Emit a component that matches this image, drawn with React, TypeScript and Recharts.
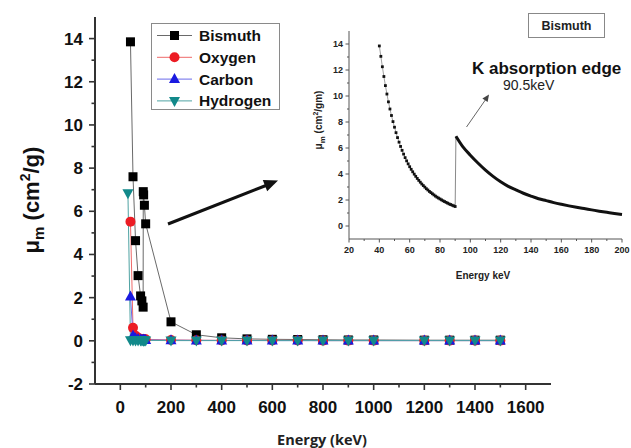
import React from "react";
import { LineChart, Line, XAxis, YAxis } from "recharts";

// ---- main chart data (mass attenuation, cm^2/g) ----
const energies = [30, 40, 50, 60, 70, 80, 85, 90, 90.5, 92, 95, 100, 200, 300, 400, 500, 600, 700, 800, 900, 1000, 1200, 1300, 1400, 1500];
const bismuth = [null, 13.85, 7.6, 4.64, 3.02, 2.08, 1.85, 1.56, 6.91, 6.76, 6.28, 5.42, 0.88, 0.28, 0.14, 0.09, 0.07, 0.06, 0.05, 0.04, 0.04, 0.03, 0.03, 0.03, 0.03];
const oxygen = [null, 5.52, 0.6, 0.24, 0.14, 0.1, 0.09, 0.08, 0.08, 0.08, 0.07, 0.07, 0.04, 0.03, 0.02, 0.02, 0.02, 0.02, 0.01, 0.01, 0.01, 0.01, 0.01, 0.01, 0.01];
const carbon = [null, 2.05, 0.25, 0.12, 0.08, 0.06, 0.05, 0.05, 0.05, 0.05, 0.04, 0.04, 0.03, 0.02, 0.02, 0.02, 0.01, 0.01, 0.01, 0.01, 0.01, 0.01, 0.01, 0.01, 0.01];
const hydrogen = [6.84, 0.03, 0.02, 0.02, 0.02, 0.02, 0.02, 0.02, 0.02, 0.02, 0.02, 0.02, 0.01, 0.01, 0.01, 0.01, 0.01, 0.01, 0.01, 0.01, 0.01, 0.01, 0.01, 0.01, 0.01];

const mainXTicks = [0, 100, 200, 300, 400, 500, 600, 700, 800, 900, 1000, 1100, 1200, 1300, 1400, 1500, 1600];
const mainYTicks = [-2, -1, 0, 1, 2, 3, 4, 5, 6, 7, 8, 9, 10, 11, 12, 13, 14];

// ---- inset data (Bismuth around the K edge) ----
const preEdgeEnergies = [40, 41, 42, 43, 44, 45, 46, 47, 48, 49, 50, 51, 52, 53, 54, 55, 56, 57, 58, 59, 60, 61, 62, 63, 64, 65, 66, 67, 68, 69, 70, 71, 72, 73, 74, 75, 76, 77, 78, 79, 80, 81, 82, 83, 84, 85, 86, 87, 88, 89, 90];
const preEdgeValues = [13.85, 13.05, 12.25, 11.5, 10.8, 10.15, 9.55, 9.0, 8.5, 8.03, 7.6, 7.18, 6.8, 6.45, 6.12, 5.82, 5.53, 5.26, 5.01, 4.78, 4.56, 4.36, 4.17, 3.99, 3.82, 3.66, 3.51, 3.37, 3.23, 3.11, 2.99, 2.87, 2.77, 2.66, 2.57, 2.48, 2.39, 2.3, 2.22, 2.15, 2.08, 2.01, 1.94, 1.88, 1.82, 1.76, 1.7, 1.65, 1.6, 1.55, 1.5];
const postEdgeEnergies = [90.5, 95, 100, 105, 110, 115, 120, 125, 130, 135, 140, 145, 150, 155, 160, 165, 170, 175, 180, 185, 190, 195, 200];
const postEdgeValues = [6.9, 6.1, 5.45, 4.85, 4.3, 3.82, 3.4, 3.05, 2.78, 2.52, 2.3, 2.1, 1.95, 1.8, 1.67, 1.55, 1.44, 1.34, 1.24, 1.14, 1.05, 0.96, 0.88];

const insetXTicks = [20, 30, 40, 50, 60, 70, 80, 90, 100, 110, 120, 130, 140, 150, 160, 170, 180, 190, 200];
const insetYTicks = [0, 1, 2, 3, 4, 5, 6, 7, 8, 9, 10, 11, 12, 13, 14];

const series = [
  { key: "bismuth", name: "Bismuth", color: "#000000", line: "#6a6a6a", shape: "square" },
  { key: "oxygen", name: "Oxygen", color: "#ec1c24", line: "#ee6a6a", shape: "circle" },
  { key: "carbon", name: "Carbon", color: "#1a1ae0", line: "#6b6bea", shape: "up" },
  { key: "hydrogen", name: "Hydrogen", color: "#12898a", line: "#4fa3a3", shape: "down" },
];

const mainData = energies.map((energy, i) => ({
  energy,
  bismuth: bismuth[i],
  oxygen: oxygen[i],
  carbon: carbon[i],
  hydrogen: hydrogen[i],
}));

const insetData = [
  ...preEdgeEnergies.map((energy, i) => ({
    energy,
    pre: preEdgeValues[i],
    post: null as number | null,
    jump: i === preEdgeEnergies.length - 1 ? preEdgeValues[i] : null,
  })),
  ...postEdgeEnergies.map((energy, i) => ({
    energy,
    pre: null as number | null,
    post: postEdgeValues[i],
    jump: i === 0 ? postEdgeValues[i] : null,
  })),
];

const AXIS = "#333";
const ARIAL = "'Liberation Sans', Arial, sans-serif";

function Marker({ shape, cx, cy, color }: { shape: string; cx: number; cy: number; color: string }) {
  if (shape === "square") return <rect x={cx - 4.5} y={cy - 4.5} width={9} height={9} fill={color} />;
  if (shape === "circle") return <circle cx={cx} cy={cy} r={5} fill={color} />;
  if (shape === "up")
    return <polygon points={`${cx},${cy - 6} ${cx - 5.5},${cy + 4} ${cx + 5.5},${cy + 4}`} fill={color} />;
  return <polygon points={`${cx - 5.5},${cy - 4} ${cx + 5.5},${cy - 4} ${cx},${cy + 6}`} fill={color} />;
}

function arrowHead(x1: number, y1: number, x2: number, y2: number, len: number, half: number) {
  const d = Math.hypot(x2 - x1, y2 - y1);
  const ux = (x2 - x1) / d;
  const uy = (y2 - y1) / d;
  const bx = x2 - ux * len;
  const by = y2 - uy * len;
  return `${x2},${y2} ${bx - uy * half},${by + ux * half} ${bx + uy * half},${by - ux * half}`;
}

const MainXTick = ({ x, y, payload }: any) => {
  const major = payload.value % 200 === 0;
  return (
    <g>
      <line x1={x} y1={y} x2={x} y2={y + (major ? 6 : 3.5)} stroke={AXIS} strokeWidth={1.6} />
      {major && (
        <text x={x} y={y + 29} textAnchor="middle" fontFamily={ARIAL} fontWeight="bold" fontSize={17} fill="#111">
          {payload.value}
        </text>
      )}
    </g>
  );
};

const MainYTick = ({ x, y, payload }: any) => {
  const major = payload.value % 2 === 0;
  return (
    <g>
      <line x1={x} y1={y} x2={x - (major ? 6 : 3.5)} y2={y} stroke={AXIS} strokeWidth={1.6} />
      {major && (
        <text x={x - 12} y={y + 6} textAnchor="end" fontFamily={ARIAL} fontWeight="bold" fontSize={17} fill="#111">
          {payload.value}
        </text>
      )}
    </g>
  );
};

const InsetXTick = ({ x, y, payload }: any) => {
  const major = payload.value % 20 === 0;
  return (
    <g>
      <line x1={x} y1={y} x2={x} y2={y + (major ? 3.5 : 2)} stroke="#555" strokeWidth={1} />
      {major && (
        <text x={x} y={y + 14} textAnchor="middle" fontFamily={ARIAL} fontWeight="bold" fontSize={9} fill="#222">
          {payload.value}
        </text>
      )}
    </g>
  );
};

const InsetYTick = ({ x, y, payload }: any) => {
  const major = payload.value % 2 === 0;
  return (
    <g>
      <line x1={x} y1={y} x2={x - (major ? 3.5 : 2)} y2={y} stroke="#555" strokeWidth={1} />
      {major && (
        <text x={x - 6} y={y + 3.2} textAnchor="end" fontFamily={ARIAL} fontWeight="bold" fontSize={9} fill="#222">
          {payload.value}
        </text>
      )}
    </g>
  );
};

function Overlay() {
  return (
    <svg width={631} height={448} style={{ position: "absolute", left: 0, top: 0, pointerEvents: "none" }}>
      {/* main axis titles */}
      <text transform="translate(39,200) rotate(-90)" textAnchor="middle" fontFamily={ARIAL} fontWeight="bold" fontSize={22} fill="#111">
        μ<tspan fontSize={15} dy={5}>m</tspan>
        <tspan dy={-5}> (cm</tspan>
        <tspan fontSize={14} dy={-9}>2</tspan>
        <tspan dy={9}>/g)</tspan>
      </text>
      <text x={322} y={445} textAnchor="middle" fontFamily="'Open Sans', sans-serif" fontWeight="bold" fontSize={14.5} fill="#222">
        Energy (keV)
      </text>

      {/* legend */}
      <rect x={151.5} y={23.5} width={128} height={86} fill="#fff" stroke="#8a8a8a" strokeWidth={1} />
      {series.map((s, i) => {
        const cy = 35.5 + i * 21.8;
        return (
          <g key={s.key}>
            <line x1={157} y1={cy} x2={192} y2={cy} stroke={s.line} strokeWidth={1} />
            <Marker shape={s.shape} cx={174.5} cy={cy} color={s.color} />
            <text x={199} y={cy + 5.5} fontFamily={ARIAL} fontWeight="bold" fontSize={15.5} fill="#111">
              {s.name}
            </text>
          </g>
        );
      })}

      {/* pointer from main plot to inset */}
      <line x1={168} y1={224} x2={266} y2={185.5} stroke="#111" strokeWidth={3} />
      <polygon points={arrowHead(168, 224, 278, 180.5, 14, 6)} fill="#111" />

      {/* inset annotations */}
      <rect x={528.5} y={13.5} width={76} height={24} fill="#fff" stroke="#888" strokeWidth={1} />
      <text x={566.5} y={30} textAnchor="middle" fontFamily={ARIAL} fontWeight="bold" fontSize={12.5} fill="#222">
        Bismuth
      </text>
      <text x={472} y={74} fontFamily={ARIAL} fontWeight="bold" fontSize={17} fill="#111">
        K absorption edge
      </text>
      <text x={503} y={90} fontFamily={ARIAL} fontSize={14} fill="#222">
        90.5keV
      </text>
      <line x1={466.5} y1={127} x2={486} y2={99} stroke="#666" strokeWidth={1} />
      <polygon points={arrowHead(466.5, 127, 489, 94.5, 7, 3.2)} fill="#444" />

      <text transform="translate(322,120) rotate(-90)" textAnchor="middle" fontFamily={ARIAL} fontWeight="bold" fontSize={10} fill="#222">
        μ<tspan fontSize={8} dy={2.5}>m</tspan>
        <tspan dy={-2.5}> (cm</tspan>
        <tspan fontSize={7} dy={-4}>2</tspan>
        <tspan dy={4}>/gm)</tspan>
      </text>
      <text x={483} y={279} textAnchor="middle" fontFamily={ARIAL} fontWeight="bold" fontSize={10} fill="#222">
        Energy keV
      </text>
    </svg>
  );
}

export default function App() {
  return (
    <div style={{ position: "absolute", left: 0, top: 0, width: 631, height: 448, background: "#fff" }}>
      <LineChart width={631} height={448} data={mainData} margin={{ top: 17, right: 80, bottom: 0, left: 0 }}>
        <XAxis
          type="number"
          dataKey="energy"
          domain={[-100, 1700]}
          ticks={mainXTicks}
          interval={0}
          height={64}
          tickSize={0}
          tickMargin={0}
          tickLine={false}
          tick={<MainXTick />}
          axisLine={{ stroke: AXIS, strokeWidth: 2 }}
          allowDataOverflow
        />
        <YAxis
          type="number"
          domain={[-2, 15]}
          ticks={mainYTicks}
          interval={0}
          width={95}
          tickSize={0}
          tickMargin={0}
          tickLine={false}
          tick={<MainYTick />}
          axisLine={{ stroke: AXIS, strokeWidth: 2 }}
          allowDataOverflow
        />
        {series.map((s) => (
          <Line
            key={s.key}
            dataKey={s.key}
            type="linear"
            stroke={s.line}
            strokeWidth={1}
            isAnimationActive={false}
            dot={(p: any) =>
              p.cy == null ? <g key={p.key ?? p.index} /> : (
                <g key={p.key ?? p.index}>
                  <Marker shape={s.shape} cx={p.cx} cy={p.cy} color={s.color} />
                </g>
              )
            }
            activeDot={false}
          />
        ))}
      </LineChart>

      <div style={{ position: "absolute", left: 300, top: 0 }}>
        <LineChart width={331} height={290} data={insetData} margin={{ top: 31, right: 9, bottom: 0, left: 0 }}>
          <XAxis
            type="number"
            dataKey="energy"
            domain={[20, 200]}
            ticks={insetXTicks}
            interval={0}
            height={51}
            tickSize={0}
            tickMargin={0}
            tickLine={false}
            tick={<InsetXTick />}
            axisLine={{ stroke: "#555", strokeWidth: 1 }}
          />
          <YAxis
            type="number"
            domain={[-1, 15]}
            ticks={insetYTicks}
            interval={0}
            width={49}
            tickSize={0}
            tickMargin={0}
            tickLine={false}
            tick={<InsetYTick />}
            axisLine={{ stroke: "#555", strokeWidth: 1 }}
          />
          <Line dataKey="jump" type="linear" stroke="#8a8a8a" strokeWidth={1} dot={false} activeDot={false} isAnimationActive={false} />
          <Line
            dataKey="pre"
            type="linear"
            stroke="#777"
            strokeWidth={0.7}
            isAnimationActive={false}
            activeDot={false}
            dot={(p: any) =>
              p.cy == null ? <g key={p.index} /> : <rect key={p.index} x={p.cx - 1.4} y={p.cy - 1.4} width={2.8} height={2.8} fill="#111" />
            }
          />
          <Line dataKey="post" type="monotone" stroke="#111" strokeWidth={3} dot={false} activeDot={false} isAnimationActive={false} />
        </LineChart>
      </div>

      <Overlay />
    </div>
  );
}
